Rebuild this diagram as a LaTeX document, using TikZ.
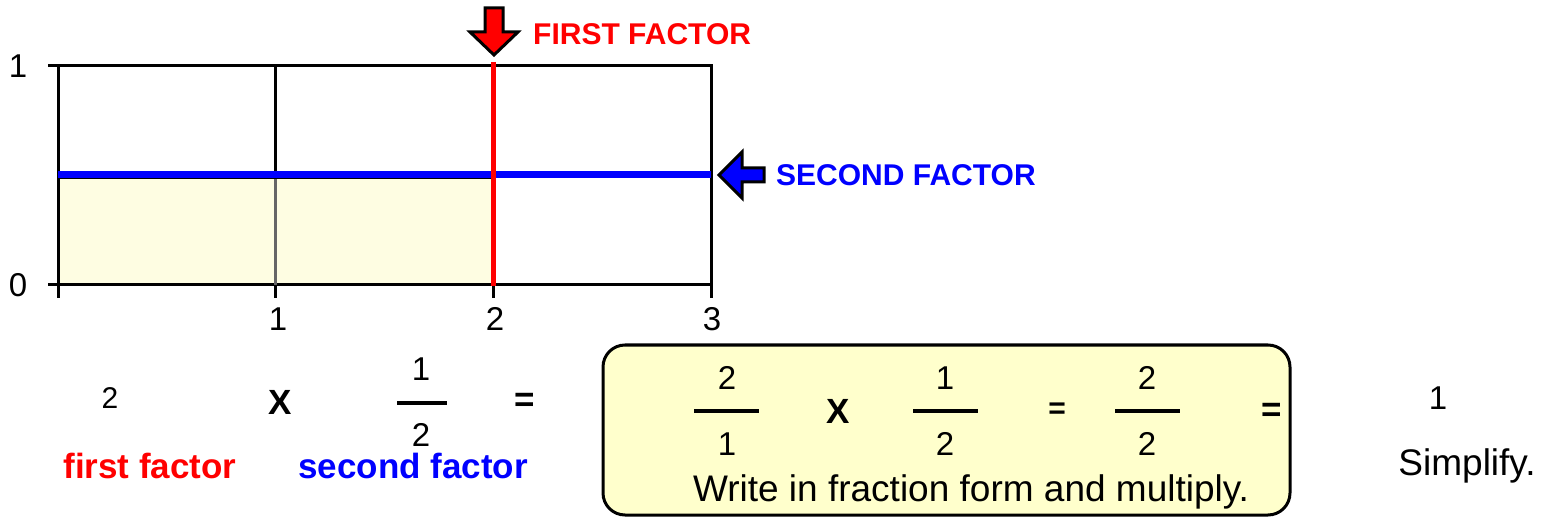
\documentclass[tikz,border=0pt]{standalone}
\usepackage{fontspec}
\setmainfont{Liberation Sans}
\definecolor{gridfill}{HTML}{FEFDE2}
\definecolor{boxfill}{HTML}{FFFFCC}
\definecolor{pureblue}{HTML}{0000FF}
\definecolor{purered}{HTML}{FF0000}
\begin{document}
\begin{tikzpicture}[x=1pt,y=-1pt,
  txt/.style={inner sep=0pt, font=\fontsize{33}{40}\selectfont},
  smtxt/.style={inner sep=0pt, font=\fontsize{30}{36}\selectfont},
  bigtxt/.style={inner sep=0pt, font=\fontsize{37}{44}\selectfont},
  btxt/.style={inner sep=0pt, font=\fontsize{30}{36}\selectfont\bfseries},
  lbl/.style={inner sep=0pt, font=\fontsize{35}{42}\selectfont\bfseries},
  gridline/.style={black, line width=3pt},
  fracbar/.style={black, line width=4.5pt},
  arrowbody/.style={draw=black, line width=3pt, line join=miter}]
\useasboundingbox (0,0) rectangle (1553,521);
% shaded product region
\fill[gridfill] (58,175) rectangle (493,285);
% grid
\draw[gridline] (58,66) rectangle (711,285);
\draw[gridline, black!60] (275,175) -- (275,285);
\draw[gridline] (275,66) -- (275,175);
\draw[gridline] (48,66) -- (58,66);
\draw[gridline] (48,285) -- (58,285);
\foreach \x in {58,275,493,711} \draw[gridline] (\x,285) -- (\x,298);
\draw[black, line width=1.5pt] (58,178) -- (493,178);
% factor lines
\draw[pureblue, line width=7pt] (58,175) -- (711,175);
\draw[purered, line width=5pt] (493,62) -- (493,286);
% tick labels
\node[txt] (y1) at (18,66) {1};
\node[txt] (y0) at (18,285) {0};
\node[txt] (x1) at (278,319) {1};
\node[txt] (x2) at (495,319) {2};
\node[txt] (x3) at (712,319) {3};
% red arrow
\coordinate (rtip) at (494,55);
\filldraw[arrowbody, fill=purered] (rtip) -- (470,32) -- (485,32) -- (485,8) -- (503,8) -- (503,32) -- (518,32) -- cycle;
\node[btxt, purered, anchor=west] (firstF) at (533,34) {FIRST FACTOR};
% blue arrow
\coordinate (btip) at (719,175);
\filldraw[arrowbody, fill=pureblue] (btip) -- (742,152) -- (742,168) -- (764,168) -- (764,182) -- (742,182) -- (742,198) -- cycle;
\node[btxt, pureblue, anchor=west] (secondF) at (776,175) {SECOND FACTOR};
% bottom equation
\node[smtxt] (two) at (110,398) {2};
\node[lbl] (times1) at (280,402) {X};
\node[txt] (n1) at (421,369) {1};
\draw[fracbar] (397,403) -- (447,403);
\node[txt] (d1) at (421,435) {2};
\node[lbl] (eq1) at (525,402) {=};
\node[lbl, purered] (fflabel) at (150,466) {first factor};
\node[lbl, pureblue] (sflabel) at (413,466) {second factor};
% rounded box
\draw[black, line width=3pt, fill=boxfill, rounded corners=22pt] (603,345) rectangle (1290,515);
\node[txt] (bn1) at (727,378) {2};
\draw[fracbar] (694,411) -- (759,411);
\node[txt] (bd1) at (727,444) {1};
\node[lbl] (times2) at (838,411) {X};
\node[txt] (bn2) at (945,378) {1};
\draw[fracbar] (913,411) -- (978,411);
\node[txt] (bd2) at (945,444) {2};
\node[btxt] (eq2) at (1057,411) {=};
\node[txt] (bn3) at (1147,378) {2};
\draw[fracbar] (1115,411) -- (1180,411);
\node[txt] (bd3) at (1147,444) {2};
\node[lbl] (eq3) at (1272,412) {=};
\node[bigtxt] (write) at (971,492) {Write in fraction form and multiply.};
% simplified result
\node[txt] (one) at (1438,398) {1};
\node[bigtxt] (simp) at (1467,466) {Simplify.};
\end{tikzpicture}
\end{document}
